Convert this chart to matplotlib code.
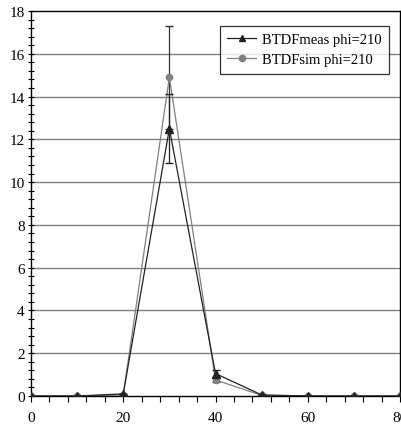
import matplotlib
matplotlib.use("Agg")
import matplotlib.pyplot as plt
from matplotlib.ticker import MultipleLocator
from matplotlib.lines import Line2D

angles = [0, 10, 20, 30, 40, 50, 60, 70, 80]
meas = [0.0, 0.0, 0.1, 12.5, 1.05, 0.05, 0.0, 0.0, 0.0]
meas_err = [0, 0, 0, 1.6, 0.15, 0, 0, 0, 0]
sim = [0.0, 0.0, 0.05, 14.9, 0.75, 0.03, 0.0, 0.0, 0.0]
sim_err = [0, 0, 0, 2.4, 0.1, 0, 0, 0, 0]
labels = ['BTDFmeas phi=210', 'BTDFsim phi=210']

plt.rcParams['font.family'] = ['Liberation Serif', 'DejaVu Serif']
fig = plt.figure(figsize=(4.01, 4.27), dpi=100)
ax = fig.add_axes([31/401, 30/427, 369/401, 385/427])

for y in range(2, 18, 2):
    ax.axhline(y, color='#808080', lw=1.0, zorder=0)

meas_c = '#222222'
sim_c = '#808080'
ax.errorbar(angles, meas, yerr=meas_err, color=meas_c, lw=0.9, marker='^', ms=5.5,
            capsize=3, elinewidth=0.9, zorder=3)
ax.errorbar(angles, sim, yerr=sim_err, color=sim_c, lw=0.9, marker='o', ms=4.5,
            capsize=3, elinewidth=0.9, ecolor='#333333', zorder=2)

ax.set_xlim(0, 80)
ax.set_ylim(0, 18)
ax.xaxis.set_major_locator(MultipleLocator(20))
ax.xaxis.set_minor_locator(MultipleLocator(4))
ax.yaxis.set_major_locator(MultipleLocator(2))
ax.yaxis.set_minor_locator(MultipleLocator(0.4))
ax.tick_params(axis='x', which='both', direction='out', length=4, width=0.8, labelsize=11, pad=7)
ax.tick_params(axis='y', which='both', direction='inout', length=5, width=0.8, labelsize=11, pad=2)
for s in ax.spines.values():
    s.set_linewidth(1.0)
    s.set_color('black')

handles = [Line2D([], [], color=meas_c, lw=0.9, marker='^', ms=5),
           Line2D([], [], color=sim_c, lw=0.9, marker='o', ms=4.5)]
leg = ax.legend(handles, labels, loc='upper right', bbox_to_anchor=(0.99, 0.98), fontsize=10.5,
                frameon=True, fancybox=False, edgecolor='black', handlelength=2.0,
                handletextpad=0.4, borderpad=0.5, labelspacing=0.45)
leg.get_frame().set_linewidth(0.9)

fig.savefig('out.png', dpi=100)
